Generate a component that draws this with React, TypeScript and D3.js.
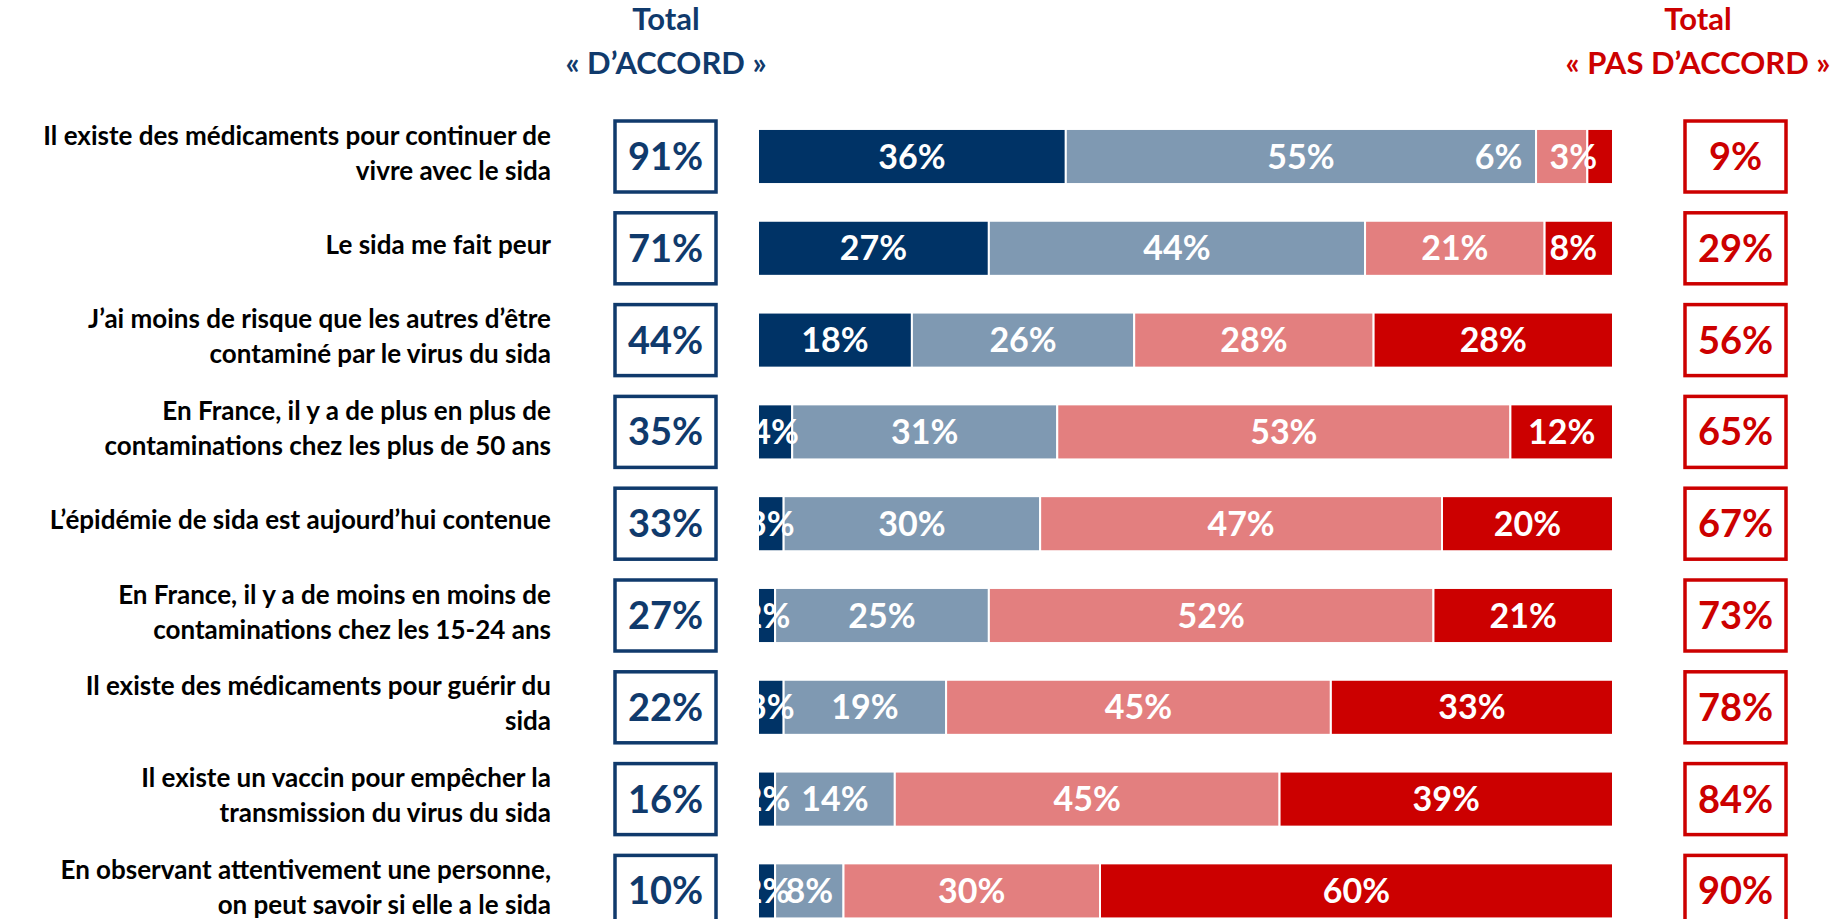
import * as d3 from "d3";

// ---- data ----
const categories = [
  ["Il existe des médicaments pour continuer de", "vivre avec le sida"],
  ["Le sida me fait peur"],
  ["J’ai moins de risque que les autres d’être", "contaminé par le virus du sida"],
  ["En France, il y a de plus en plus de", "contaminations chez les plus de 50 ans"],
  ["L’épidémie de sida est aujourd’hui contenue"],
  ["En France, il y a de moins en moins de", "contaminations chez les 15-24 ans"],
  ["Il existe des médicaments pour guérir du", "sida"],
  ["Il existe un vaccin pour empêcher la", "transmission du virus du sida"],
  ["En observant attentivement une personne,", "on peut savoir si elle a le sida"],
];
const toutAFaitDAccord = [36, 27, 18, 4, 3, 2, 3, 2, 2];
const plutotDAccord = [55, 44, 26, 31, 30, 25, 19, 14, 8];
const plutotPasDAccord = [6, 21, 28, 53, 47, 52, 45, 45, 30];
const pasDuToutDAccord = [3, 8, 28, 12, 20, 21, 33, 39, 60];
const totalDAccord = [91, 71, 44, 35, 33, 27, 22, 16, 10];
const totalPasDAccord = [9, 29, 56, 65, 67, 73, 78, 84, 90];

const keys = ["tout", "plutot", "plutotPas", "pasDuTout"] as const;
const colors: Record<string, string> = {
  tout: "#003366",
  plutot: "#7F99B2",
  plutotPas: "#E37F7F",
  pasDuTout: "#CC0000",
};
const NAVY = "#103A6C";
const RED = "#CC0000";
const FONT = "Lato, 'Open Sans', sans-serif";

const W = 1837;
const H = 919;

let ctx: CanvasRenderingContext2D | null = null;
function measure(text: string, font: string) {
  if (!ctx) ctx = document.createElement("canvas").getContext("2d");
  if (!ctx) return text.length * 18;
  ctx.font = font;
  return ctx.measureText(text).width;
}

export default function App() {
  const rows = categories.map((c, i) => ({
    id: i,
    tout: toutAFaitDAccord[i],
    plutot: plutotDAccord[i],
    plutotPas: plutotPasDAccord[i],
    pasDuTout: pasDuToutDAccord[i],
  }));
  const series = d3.stack<any>().keys(keys as any)(rows);

  const x = d3.scaleLinear().domain([0, 100]).range([758, 1613]);
  const y = d3
    .scaleBand<number>()
    .domain(rows.map((r) => r.id))
    .range([110.6, 936.8])
    .paddingInner(0.4)
    .paddingOuter(0.2);
  const bw = y.bandwidth();

  const barFontSize = 34;
  const barFont = `bold ${barFontSize}px Lato`;

  // labels are centred; near the bar's right end they get pushed left,
  // and that push cascades only while labels keep colliding
  const labelPos = rows.map((r, i) => {
    const segs = series.map((s) => {
      const d = s[i];
      const text = `${d[1] - d[0]}%`;
      const w = measure(text, barFont);
      return { key: s.key, text, w, cx: (x(d[0]) + x(d[1])) / 2 };
    });
    let limit = x(100) - 16;
    for (let k = segs.length - 1; k >= 0; k--) {
      const s = segs[k];
      if (s.cx + s.w / 2 > limit) {
        s.cx = limit - s.w / 2;
        limit = s.cx - s.w / 2 - 27;
      } else {
        limit = Infinity;
      }
    }
    return segs;
  });

  const leftBoxX = 615;
  const rightBoxX = 1685;
  const boxW = 101;
  const boxH = 71;
  const labelRight = 551;
  const lineGap = 35;

  return (
    <svg
      width={W}
      height={H}
      style={{ position: "absolute", left: 0, top: 0, background: "#fff" }}
      fontFamily={FONT}
    >
      {/* headers */}
      <g fontWeight={700} fontSize={31} textAnchor="middle">
        <text x={666} y={30} fill={NAVY}>Total</text>
        <text x={666} y={74} fill={NAVY}>« D’ACCORD »</text>
        <text x={1698} y={30} fill={RED}>Total</text>
        <text x={1698} y={74} fill={RED}>« PAS D’ACCORD »</text>
      </g>

      {/* category labels */}
      <g fontWeight={700} fontSize={26} textAnchor="end" fill="#000">
        {categories.map((lines, i) => {
          const cy = (y(i) ?? 0) + bw / 2;
          const first = cy + 5.5 - ((lines.length - 1) * lineGap) / 2;
          return (
            <text key={i} x={labelRight}>
              {lines.map((l, j) => (
                <tspan key={j} x={labelRight} y={first + j * lineGap}>
                  {l}
                </tspan>
              ))}
            </text>
          );
        })}
      </g>

      {/* stacked bars */}
      {series.map((s) => (
        <g key={s.key} fill={colors[s.key]}>
          {s.map((d, i) => (
            <rect
              key={i}
              x={x(d[0])}
              y={y(i)}
              width={x(d[1]) - x(d[0])}
              height={bw}
              stroke="#fff"
              strokeWidth={2}
            />
          ))}
        </g>
      ))}

      {/* bar value labels */}
      <g fontWeight={700} fontSize={barFontSize} fill="#fff" textAnchor="middle">
        {labelPos.map((segs, i) =>
          segs.map((s) => (
            <text key={`${i}-${s.key}`} x={s.cx} y={(y(i) ?? 0) + bw / 2 + 12}>
              {s.text}
            </text>
          ))
        )}
      </g>

      {/* total boxes */}
      {rows.map((r, i) => {
        const cy = (y(i) ?? 0) + bw / 2;
        return (
          <g key={i} fontWeight={700} fontSize={38} textAnchor="middle">
            <rect x={leftBoxX} y={cy - boxH / 2} width={boxW} height={boxH} fill="#fff" stroke={NAVY} strokeWidth={3.5} />
            <text x={leftBoxX + boxW / 2} y={cy + 13.5} fill={NAVY}>{totalDAccord[i]}%</text>
            <rect x={rightBoxX} y={cy - boxH / 2} width={boxW} height={boxH} fill="#fff" stroke={RED} strokeWidth={3.5} />
            <text x={rightBoxX + boxW / 2} y={cy + 13.5} fill={RED}>{totalPasDAccord[i]}%</text>
          </g>
        );
      })}
    </svg>
  );
}
